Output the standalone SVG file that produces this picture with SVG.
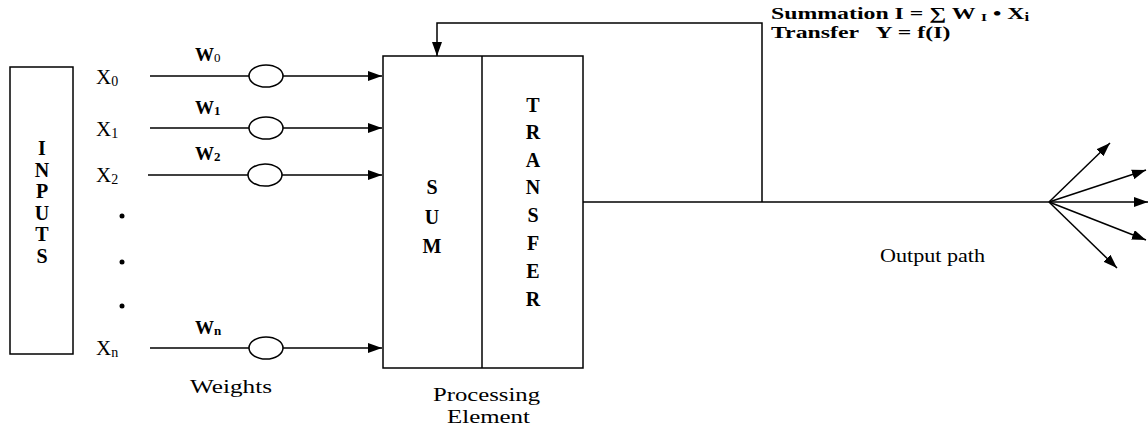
<svg xmlns="http://www.w3.org/2000/svg" width="1148" height="430" viewBox="0 0 1148 430">
<style>
.ln{stroke:#000;stroke-width:1.5;fill:none}
.bx{stroke:#000;stroke-width:1.5;fill:#fff}
text{font-family:"Liberation Serif","Times New Roman","DejaVu Serif",serif;fill:#000}
.b{font-weight:bold}
.v{font-weight:bold;font-size:20px;text-anchor:middle}
</style>
<defs>
<marker id="ah2" viewBox="0 0 14 10" refX="14" refY="5" markerWidth="14" markerHeight="10" markerUnits="userSpaceOnUse" orient="auto">
<path d="M0,0 L14,5 L0,10 z" fill="#000"/>
</marker>
</defs>
<g id="connectors">
<line class="ln" x1="150" y1="76" x2="382" y2="76" marker-end="url(#ah2)"/>
<line class="ln" x1="150" y1="128" x2="382" y2="128" marker-end="url(#ah2)"/>
<line class="ln" x1="148" y1="175" x2="382" y2="175" marker-end="url(#ah2)"/>
<line class="ln" x1="150" y1="348" x2="382" y2="348" marker-end="url(#ah2)"/>
<polyline class="ln" points="583,202 1049,202"/>
<polyline class="ln" points="762,202 762,23 437,23 437,56" marker-end="url(#ah2)"/>
<line class="ln" x1="1049" y1="202" x2="1110" y2="143" marker-end="url(#ah2)"/>
<line class="ln" x1="1049" y1="202" x2="1146" y2="170" marker-end="url(#ah2)"/>
<line class="ln" x1="1049" y1="202" x2="1148" y2="202" marker-end="url(#ah2)"/>
<line class="ln" x1="1049" y1="202" x2="1146" y2="240" marker-end="url(#ah2)"/>
<line class="ln" x1="1049" y1="202" x2="1117" y2="268" marker-end="url(#ah2)"/>
</g>
<g id="inputs">
<rect class="bx" x="10" y="67" width="63" height="287"/>
<text class="v" x="42" y="155">I</text>
<text class="v" x="42" y="177">N</text>
<text class="v" x="42" y="198">P</text>
<text class="v" x="42" y="220">U</text>
<text class="v" x="42" y="241">T</text>
<text class="v" x="42" y="263">S</text>
</g>
<g id="x-labels">
<text x="96" y="84" font-size="21">X<tspan font-size="14" dy="2">0</tspan></text>
<text x="96" y="136" font-size="21">X<tspan font-size="14" dy="2">1</tspan></text>
<text x="96" y="182" font-size="21">X<tspan font-size="14" dy="2">2</tspan></text>
<text x="96" y="355" font-size="21">X<tspan font-size="14" dy="2">n</tspan></text>
<circle cx="122" cy="216" r="2.5" fill="#000"/>
<circle cx="122" cy="262" r="2.5" fill="#000"/>
<circle cx="122" cy="306" r="2.5" fill="#000"/>
</g>
<g id="weights">
<ellipse class="bx" cx="266" cy="76" rx="17" ry="11"/>
<ellipse class="bx" cx="266" cy="128" rx="17" ry="11"/>
<ellipse class="bx" cx="265" cy="175" rx="17" ry="11"/>
<ellipse class="bx" cx="266" cy="348" rx="17" ry="11"/>
<text class="b" x="195" y="61" font-size="19">W<tspan font-size="13" font-weight="normal" dy="1">0</tspan></text>
<text class="b" x="195" y="114" font-size="19">W<tspan font-size="13" dy="1">1</tspan></text>
<text class="b" x="195" y="160" font-size="19">W<tspan font-size="13" dy="1">2</tspan></text>
<text class="b" x="195" y="334" font-size="19">W<tspan font-size="13" dy="1">n</tspan></text>
<text x="190" y="393" font-size="19" textLength="82" lengthAdjust="spacingAndGlyphs">Weights</text>
</g>
<g id="processing-element">
<rect class="bx" x="383" y="56" width="200" height="312"/>
<line class="ln" x1="482" y1="56" x2="482" y2="368"/>
<text class="v" x="432" y="194">S</text>
<text class="v" x="432" y="224">U</text>
<text class="v" x="432" y="253">M</text>
<text class="v" x="533" y="112">T</text>
<text class="v" x="533" y="139">R</text>
<text class="v" x="533" y="167">A</text>
<text class="v" x="533" y="194">N</text>
<text class="v" x="533" y="222">S</text>
<text class="v" x="533" y="250">F</text>
<text class="v" x="533" y="278">E</text>
<text class="v" x="533" y="306">R</text>
<text x="433" y="401" font-size="19" textLength="107" lengthAdjust="spacingAndGlyphs">Processing</text>
<text x="447" y="423" font-size="19" textLength="83" lengthAdjust="spacingAndGlyphs">Element</text>
</g>
<g id="formula" transform="translate(771,0) scale(1.4,1)">
<text class="b" x="0" y="19" font-size="17">Summation I = ∑ W <tspan font-size="11" dy="2">I</tspan><tspan dy="-2"> • X</tspan><tspan font-size="12" dy="2">i</tspan></text>
<text class="b" x="0" y="38" font-size="17" xml:space="preserve">Transfer   Y = f(I)</text>
</g>
<g id="output">
<text x="880" y="262" font-size="18" textLength="105" lengthAdjust="spacingAndGlyphs">Output path</text>
</g>
</svg>
